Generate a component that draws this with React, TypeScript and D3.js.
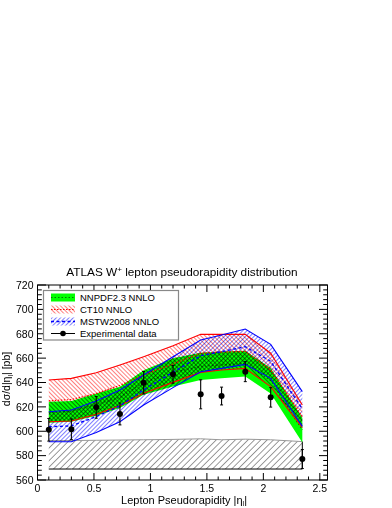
import React from 'react';
import * as d3 from 'd3';

// lepton |eta| bin centres
const eta = [0.1, 0.3, 0.52, 0.73, 0.94, 1.2, 1.445, 1.63, 1.84, 2.065, 2.345];

// experimental data
const dataVal = [601.2, 601.6, 619.6, 614.2, 639.8, 646.7, 630.3, 628.9, 648.9, 627.8, 577.2];
const dataErr = [9.3, 8.5, 8.9, 9, 9.2, 7.3, 11.9, 7.3, 8.2, 8, 7.8];

// NNPDF2.3 NNLO
const nnpdfUp = [624.2, 624.8, 631, 636.6, 650, 659.8, 664.4, 665.5, 666, 652, 611];
const nnpdfDn = [607, 607.8, 612.8, 619, 630, 636.8, 642, 643.5, 645, 631, 590.8];
const nnpdfCe = [615.6, 616.3, 622, 627.8, 640, 648.3, 653.2, 654.5, 655.5, 641.5, 601];

// CT10 NNLO
const ct10Up = [642, 643.4, 648, 654.4, 661.2, 670.2, 679.5, 679.5, 679.5, 664, 621.5];
const ct10Dn = [607.8, 608.4, 613.9, 621, 631.1, 640.1, 648.3, 650.3, 651.6, 636.6, 603];
const ct10Ce = [625, 626, 631, 637.7, 646.2, 655.2, 664, 665, 665.5, 650.3, 612];

// MSTW2008 NNLO
const mstwUp = [616, 617.4, 624.8, 633.8, 646.2, 661.2, 674.9, 679, 683.9, 671.3, 632.5];
const mstwDn = [591.4, 591.4, 599, 607.8, 621.5, 635.8, 648.9, 651.6, 654.9, 643.4, 604];
const mstwCe = [603.7, 604.4, 612, 620.8, 633.9, 648.5, 662, 665.3, 669.4, 657.4, 618.3];

// hatched band at the bottom
const sysTop = [592.3, 592.4, 592.6, 592.8, 593, 593.3, 593.8, 593, 593.5, 593, 591.5];
const sysBase = 569;

const xMajor = [0, 0.5, 1, 1.5, 2, 2.5];
const yMajor = [560, 580, 600, 620, 640, 660, 680, 700, 720];

const FONT = 'Liberation Sans, Arial, Helvetica, sans-serif';

const App = () => {
  const x = d3.scaleLinear().domain([0, 2.568]).range([37.5, 327.5]);
  const y = d3.scaleLinear().domain([560, 720]).range([480, 285]);

  const line = (vals: number[]) =>
    d3.line<number>().x((_, i) => x(eta[i])).y(d => y(d))(vals) || '';
  const area = (lo: number[], hi: number[]) =>
    d3.area<number>().x((_, i) => x(eta[i])).y0((_, i) => y(lo[i])).y1(d => y(d))(hi) || '';

  const xMinor = d3.range(0, 2.56, 0.1);
  const yMinor = d3.range(560, 721, 4);
  const [x0, x1] = x.range();
  const [yb, yt] = y.range();

  const legY = [297.5, 309.5, 321.5, 333.5];

  return (
    <svg width={392} height={508} style={{ position: 'absolute', left: 0, top: 0 }} fontFamily={FONT}>
      <defs>
        <pattern id="hRed" patternUnits="userSpaceOnUse" width={3} height={3} patternTransform="rotate(-45)">
          <line x1={0} y1={0} x2={0} y2={3} stroke="#ff0000" strokeWidth={1} />
        </pattern>
        <pattern id="hBlue" patternUnits="userSpaceOnUse" width={3} height={3} patternTransform="rotate(45)">
          <line x1={0} y1={0} x2={0} y2={3} stroke="#0000ff" strokeWidth={1} />
        </pattern>
        <pattern id="hSys" patternUnits="userSpaceOnUse" width={4.5} height={4.5} patternTransform="rotate(45)">
          <line x1={0} y1={0} x2={0} y2={4.5} stroke="#222" strokeWidth={0.9} />
        </pattern>
      </defs>
      <rect width={392} height={508} fill="#fff" />

      <text x={182} y={276} textAnchor="middle" fontSize={11.8}>
        ATLAS W<tspan dy={-4} fontSize={8}>+</tspan><tspan dy={4}> lepton pseudorapidity distribution</tspan>
      </text>

      {/* bottom hatched band */}
      <path d={area(eta.map(() => sysBase), sysTop)} fill="url(#hSys)" />
      <path d={line(sysTop)} fill="none" stroke="#999" strokeWidth={1} />
      <path d={line(eta.map(() => sysBase))} fill="none" stroke="#000" strokeWidth={1} />
      <line x1={x(eta[10])} x2={x(eta[10])} y1={y(sysBase)} y2={y(sysTop[10])} stroke="#000" />

      {/* NNPDF */}
      <path d={area(nnpdfDn, nnpdfUp)} fill="#00ff00" />
      <path d={line(nnpdfCe)} fill="none" stroke="#007a00" strokeWidth={1.2} strokeDasharray="1.5,2" />

      {/* hatches */}
      <path d={area(ct10Dn, ct10Up)} fill="url(#hRed)" style={{ mixBlendMode: 'multiply' }} />
      <path d={area(mstwDn, mstwUp)} fill="url(#hBlue)" style={{ mixBlendMode: 'multiply' }} />

      {/* band edges */}
      <path d={line(ct10Up)} fill="none" stroke="#ff0000" strokeWidth={1.1} />
      <path d={line(ct10Dn)} fill="none" stroke="#ff0000" strokeWidth={1.1} />
      <path d={line(ct10Ce)} fill="none" stroke="#ff0000" strokeWidth={1.2} strokeDasharray="1.5,1.5" />
      <path d={line(mstwUp)} fill="none" stroke="#0000ff" strokeWidth={1.1} />
      <path d={line(mstwDn)} fill="none" stroke="#0000ff" strokeWidth={1.1} />
      <path d={line(mstwCe)} fill="none" stroke="#0000ff" strokeWidth={1.4} strokeDasharray="3,2.5" />

      {/* data */}
      {eta.map((e, i) => (
        <g key={i}>
          <line x1={x(e)} x2={x(e)} y1={y(dataVal[i] - dataErr[i])} y2={y(dataVal[i] + dataErr[i])} stroke="#000" strokeWidth={1.1} />
          <line x1={x(e) - 1.5} x2={x(e) + 1.5} y1={y(dataVal[i] - dataErr[i])} y2={y(dataVal[i] - dataErr[i])} stroke="#000" />
          <line x1={x(e) - 1.5} x2={x(e) + 1.5} y1={y(dataVal[i] + dataErr[i])} y2={y(dataVal[i] + dataErr[i])} stroke="#000" />
          <circle cx={x(e)} cy={y(dataVal[i])} r={3} fill="#000" />
        </g>
      ))}

      {/* frame and ticks */}
      <rect x={x0} y={yt} width={x1 - x0} height={yb - yt} fill="none" stroke="#000" strokeWidth={1} />
      {xMinor.map((t, i) => {
        const len = xMajor.some(m => Math.abs(m - t) < 1e-6) ? 7 : 3.5;
        return (
          <g key={'xt' + i}>
            <line x1={x(t)} x2={x(t)} y1={yb} y2={yb - len} stroke="#000" />
            <line x1={x(t)} x2={x(t)} y1={yt} y2={yt + len} stroke="#000" />
          </g>
        );
      })}
      {yMinor.map((t, i) => {
        const len = t % 20 === 0 ? 8.5 : 4.3;
        return (
          <g key={'yt' + i}>
            <line x1={x0} x2={x0 + len} y1={y(t)} y2={y(t)} stroke="#000" />
            <line x1={x1} x2={x1 - len} y1={y(t)} y2={y(t)} stroke="#000" />
          </g>
        );
      })}
      {xMajor.map(t => (
        <text key={'xl' + t} x={x(t)} y={492} textAnchor="middle" fontSize={10.5}>{t}</text>
      ))}
      {yMajor.map(t => (
        <text key={'yl' + t} x={33.5} y={y(t) + 3.8} textAnchor="end" fontSize={10.5}>{t}</text>
      ))}

      <text x={247} y={503.5} textAnchor="end" fontSize={11}>
        Lepton Pseudorapidity |η<tspan dy={2.5} fontSize={7}>l</tspan><tspan dy={-2.5}>|</tspan>
      </text>
      <text transform="translate(10,379) rotate(-90)" textAnchor="middle" fontSize={10.5}>
        dσ/d|η<tspan dy={2.5} fontSize={7}>l</tspan><tspan dy={-2.5}>| [pb]</tspan>
      </text>

      {/* legend */}
      <rect x={43.5} y={290.5} width={135} height={49.5} fill="#fff" stroke="#888" strokeWidth={1.2} />
      <rect x={51} y={legY[0] - 4} width={24} height={8} fill="#00ff00" />
      <line x1={51} x2={75} y1={legY[0]} y2={legY[0]} stroke="#007a00" strokeWidth={1.2} strokeDasharray="1.5,2" />
      <rect x={51} y={legY[1] - 4} width={24} height={8} fill="url(#hRed)" />
      <line x1={51} x2={75} y1={legY[1]} y2={legY[1]} stroke="#ff0000" strokeWidth={1.2} strokeDasharray="1.5,1.5" />
      <rect x={51} y={legY[2] - 4} width={24} height={8} fill="url(#hBlue)" />
      <line x1={51} x2={75} y1={legY[2]} y2={legY[2]} stroke="#0000ff" strokeWidth={1.4} strokeDasharray="3,2.5" />
      <line x1={51} x2={75} y1={legY[3]} y2={legY[3]} stroke="#000" strokeWidth={1} />
      <circle cx={63} cy={legY[3]} r={2.8} fill="#000" />
      {['NNPDF2.3 NNLO', 'CT10 NNLO', 'MSTW2008 NNLO', 'Experimental data'].map((s, i) => (
        <text key={s} x={80} y={legY[i] + 3.5} fontSize={9.5}>{s}</text>
      ))}
    </svg>
  );
};

export default App;
